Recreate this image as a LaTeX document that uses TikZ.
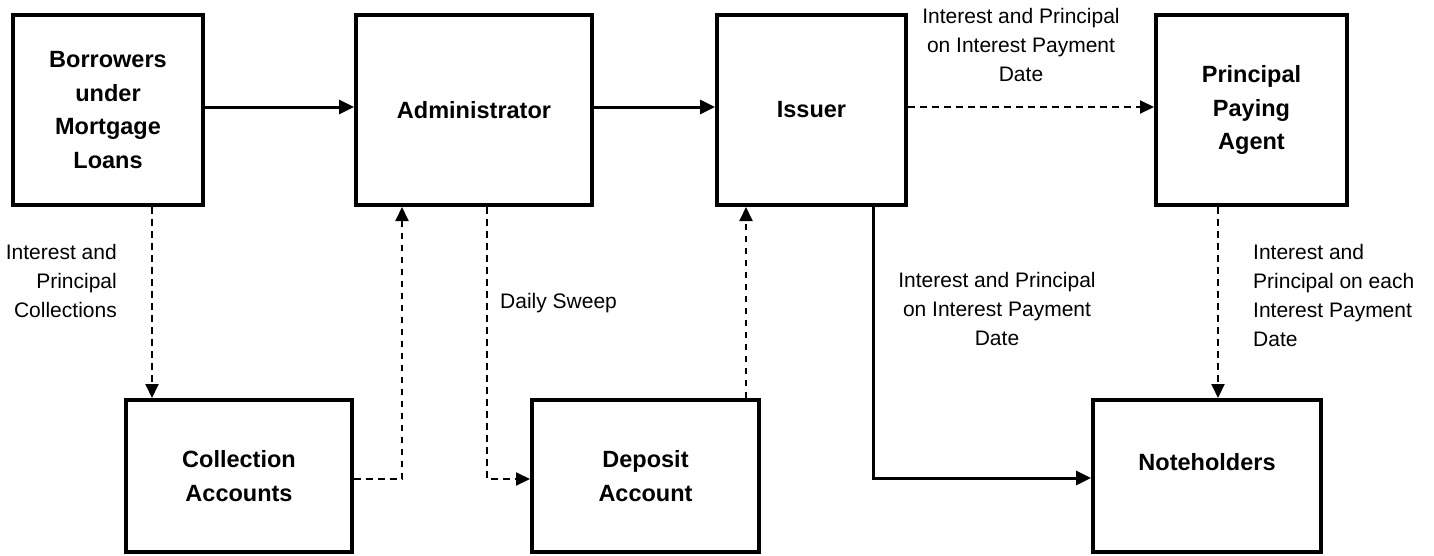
\documentclass[tikz,border=0pt]{standalone}
\usepackage{fontspec}
\setmainfont{Liberation Sans}
\usetikzlibrary{arrows.meta}
\tikzset{
  box/.style={draw, line width=4pt, inner sep=0pt, align=center,
    font=\fontsize{23.5}{33.5}\selectfont\bfseries},
  solidflow/.style={line width=3pt, -{Triangle[length=15pt,width=14pt]}},
  dashflow/.style={line width=2pt, dash pattern=on 6.5pt off 5.5pt,
    -{Triangle[length=14pt,width=13pt]}},
  lbl/.style={inner sep=0pt, font=\fontsize{21}{29}\selectfont}
}
\begin{document}
\begin{tikzpicture}[x=1pt,y=-1pt]
\useasboundingbox (0,0) rectangle (1434,555);
% boxes
\node[box, minimum width=190pt, minimum height=190pt] (bor) at (108,110) {Borrowers\\under\\Mortgage\\Loans};
\node[box, minimum width=236pt, minimum height=190pt] (adm) at (474,110) {Administrator};
\node[box, minimum width=189pt, minimum height=190pt] (iss) at (811.5,110) {Issuer};
\node[box, minimum width=191pt, minimum height=190pt] (ppa) at (1251.5,110) {Principal\\Paying\\Agent};
\node[box, minimum width=226pt, minimum height=152pt] (col) at (239,476) {Collection\\Accounts};
\node[box, minimum width=227pt, minimum height=152pt] (dep) at (645.5,476) {Deposit\\Account};
\node[box, minimum width=228pt, minimum height=152pt, text depth=28pt] (note) at (1207,476) {Noteholders};
% connectors
\draw[solidflow] ([yshift=3pt]bor.east) -- ([yshift=3pt]adm.west);
\draw[solidflow] ([yshift=3pt]adm.east) -- ([yshift=3pt]iss.west);
\draw[dashflow] ([yshift=3pt]iss.east) -- ([yshift=3pt]ppa.west);
\draw[dashflow] ([xshift=44pt]bor.south) -- ([xshift=44pt]bor.south |- col.north);
\draw[dashflow] ([yshift=-3pt]col.east) -| ([xshift=-72pt]adm.south);
\draw[dashflow] ([xshift=13pt]adm.south) |- ([yshift=-3pt]dep.west);
\draw[dashflow] ([xshift=100.5pt]dep.north) -- ([xshift=100.5pt]dep.north |- iss.south);
\draw[solidflow] ([xshift=61.5pt]iss.south) |- ([yshift=-2pt]note.west);
\draw[dashflow] ([xshift=-33.5pt]ppa.south) -- ([xshift=-33.5pt]ppa.south |- note.north);
% labels
\node[lbl, anchor=east, align=right] (l1) at (117,281) {Interest and\\Principal\\Collections};
\node[lbl, anchor=west] (l2) at (500,303) {Daily Sweep};
\node[lbl, align=center] (l3) at (1021,45) {Interest and Principal\\on Interest Payment\\Date};
\node[lbl, align=center] (l4) at (997,309) {Interest and Principal\\on Interest Payment\\Date};
\node[lbl, anchor=west, align=left] (l5) at (1253,295) {Interest and\\Principal on each\\Interest Payment\\Date};
\end{tikzpicture}
\end{document}
